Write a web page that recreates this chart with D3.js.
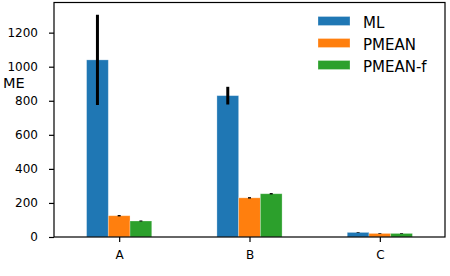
<!DOCTYPE html>
<html>
<head>
<meta charset="utf-8">
<script src="https://cdn.jsdelivr.net/npm/d3@7"></script>
<style>
  body { margin: 0; background: #fff; }
  text { font-family: "DejaVu Sans", sans-serif; fill: #000; }
</style>
</head>
<body>
<svg id="chart" width="450" height="276"></svg>
<script>
// data
var categories = ['A', 'B', 'C'];
var seriesNames = ['ML', 'PMEAN', 'PMEAN-f'];
var seriesColors = ['#1f77b4', '#ff7f0e', '#2ca02c'];
var mlValues = [1040, 830, 27];
var mlErrors = [265, 52, 2];
var pmeanValues = [125, 230, 21];
var pmeanErrors = [4, 4, 2];
var pmeanfValues = [94, 254, 21];
var pmeanfErrors = [3, 4, 2];
var yTicks = [0, 200, 400, 600, 800, 1000, 1200];

var seriesValues = [mlValues, pmeanValues, pmeanfValues];
var seriesErrors = [mlErrors, pmeanErrors, pmeanfErrors];

var margin = { left: 54, top: 2.5, right: 5, bottom: 39 };
var width = 450, height = 276;
var in_width = width - margin.left - margin.right;
var in_height = height - margin.top - margin.bottom;

var svg = d3.select('#chart');
var g = svg.append('g')
    .attr('transform', 'translate(' + margin.left + ',' + margin.top + ')');

// x in category units, groups at 0,1,2
var xScale = d3.scaleLinear().domain([-0.5, 2.5]).range([0, in_width]);
var yScale = d3.scaleLinear().domain([0, 1377]).range([in_height, 0]);
var barW = 1 / 6;

// flatten into bar rows
var bars = [];
seriesValues.forEach(function (vals, s) {
    vals.forEach(function (v, i) {
        bars.push({ s: s, i: i, value: v, err: seriesErrors[s][i] });
    });
});

g.selectAll('rect.bar')
    .data(bars)
    .enter().append('rect')
    .attr('class', 'bar')
    .attr('x', function (d) { return xScale(d.i + (d.s - 1) * barW - barW / 2); })
    .attr('y', function (d) { return yScale(d.value); })
    .attr('width', xScale(barW) - xScale(0))
    .attr('height', function (d) { return yScale(0) - yScale(d.value); })
    .attr('fill', function (d) { return seriesColors[d.s]; })
    .attr('stroke', '#ffffff')
    .attr('stroke-opacity', 0.35)
    .attr('stroke-width', 0.8);

// error bars
g.selectAll('line.err')
    .data(bars)
    .enter().append('line')
    .attr('class', 'err')
    .attr('x1', function (d) { return xScale(d.i + (d.s - 1) * barW); })
    .attr('x2', function (d) { return xScale(d.i + (d.s - 1) * barW); })
    .attr('y1', function (d) { return yScale(d.value - d.err); })
    .attr('y2', function (d) { return yScale(d.value + d.err); })
    .attr('stroke', '#000')
    .attr('stroke-width', 3)
    .attr('stroke-linecap', 'butt');

// axes
var yAxis = d3.axisLeft(yScale).tickValues(yTicks)
    .tickFormat(d3.format('d'))
    .tickSize(5).tickPadding(11);
var xAxis = d3.axisBottom(xScale).tickValues([0, 1, 2])
    .tickFormat(function (d) { return categories[d]; })
    .tickSize(5).tickPadding(8);

var yAxisGroup = g.append('g').call(yAxis);
var xAxisGroup = g.append('g').attr('transform', 'translate(0,' + in_height + ')').call(xAxis);
[yAxisGroup, xAxisGroup].forEach(function (ax) {
    ax.select('.domain').remove();
    ax.selectAll('.tick line').attr('stroke', '#000').attr('stroke-width', 1.2);
    ax.selectAll('.tick text').style('font-size', '12px').attr('fill', '#000');
});

// frame
g.append('rect')
    .attr('x', 0).attr('y', 0)
    .attr('width', in_width).attr('height', in_height)
    .attr('fill', 'none')
    .attr('stroke', '#000')
    .attr('stroke-width', 1.2);

// y label, horizontal
svg.append('text')
    .attr('x', 3)
    .attr('y', 87.5)
    .style('font-size', '14.5px')
    .text('ME');

// legend
var legend = svg.append('g').attr('transform', 'translate(318,16.5)');
var items = legend.selectAll('g')
    .data(seriesNames)
    .enter().append('g')
    .attr('transform', function (d, i) { return 'translate(0,' + (i * 22) + ')'; });
items.append('rect')
    .attr('width', 32).attr('height', 9)
    .attr('fill', function (d, i) { return seriesColors[i]; })
    .attr('stroke', '#fff').attr('stroke-opacity', 0.35).attr('stroke-width', 0.8);
items.append('text')
    .attr('x', 45)
    .attr('y', 11.5)
    .style('font-size', '15px')
    .text(function (d) { return d; });
</script>
</body>
</html>
